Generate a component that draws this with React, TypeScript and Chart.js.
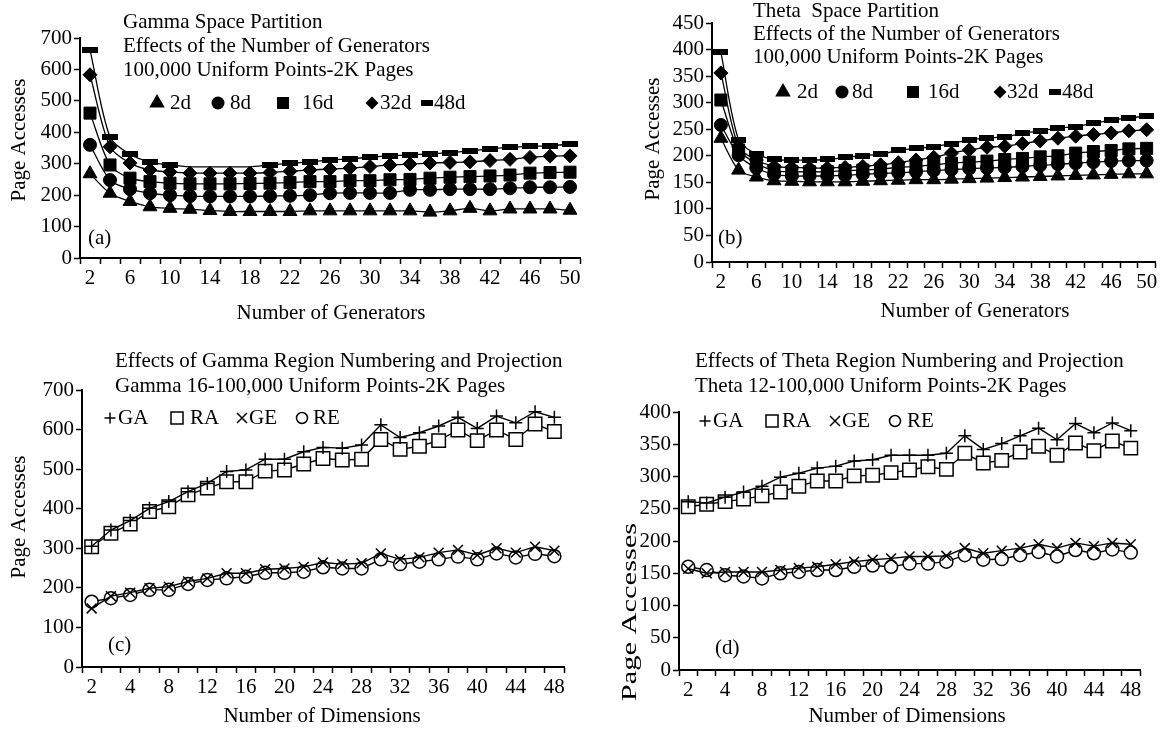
import React, { useEffect, useRef } from 'react';
import { Chart, registerables } from 'chart.js';

Chart.register(...registerables);

const SERIF = '"Liberation Serif", "Times New Roman", serif';

// ---------- categories ----------
const genLabels = ['2', '4', '6', '8', '10', '12', '14', '16', '18', '20', '22', '24', '26', '28', '30', '32', '34', '36', '38', '40', '42', '44', '46', '48', '50'];
const dimLabels = ['2', '3', '4', '6', '8', '10', '12', '14', '16', '18', '20', '22', '24', '26', '28', '30', '32', '34', '36', '38', '40', '42', '44', '46', '48'];

// ---------- (a) Gamma space partition ----------
const gamma2d = [268, 206, 180, 163, 158, 155, 151, 148, 148, 148, 148, 150, 150, 150, 150, 150, 150, 146, 150, 158, 150, 156, 156, 156, 152];
const gamma8d = [360, 248, 219, 206, 200, 197, 196, 196, 196, 197, 198, 200, 206, 207, 207, 207, 217, 217, 219, 219, 219, 222, 225, 225, 226];
const gamma16d = [461, 296, 254, 243, 238, 236, 236, 236, 237, 238, 240, 243, 243, 246, 246, 249, 250, 254, 257, 259, 261, 264, 270, 272, 273];
const gamma32d = [583, 354, 302, 280, 274, 270, 270, 270, 270, 272, 276, 280, 283, 286, 291, 296, 299, 302, 304, 306, 310, 314, 320, 324, 325];
const gamma48d = [662, 385, 330, 305, 296, 290, 290, 290, 290, 296, 301, 306, 312, 315, 321, 325, 328, 331, 335, 341, 347, 352, 355, 357, 362];

// ---------- (b) Theta space partition ----------
const theta2d = [233, 173, 160, 153, 152, 151, 151, 151, 152, 153, 154, 155, 155, 156, 157, 158, 159, 160, 161, 162, 163, 164, 165, 166, 166];
const theta8d = [258, 201, 177, 165, 162, 162, 162, 163, 165, 167, 168, 170, 172, 174, 176, 177, 178, 180, 182, 184, 186, 188, 190, 191, 191];
const theta16d = [305, 211, 186, 172, 170, 170, 170, 172, 173, 175, 178, 180, 183, 186, 188, 190, 193, 195, 198, 200, 205, 208, 210, 213, 214];
const theta32d = [356, 217, 192, 180, 178, 177, 177, 178, 180, 183, 187, 192, 197, 205, 211, 216, 218, 223, 228, 233, 237, 240, 243, 247, 249];
const theta48d = [395, 230, 203, 193, 192, 192, 193, 197, 200, 203, 210, 214, 217, 223, 230, 233, 236, 242, 247, 252, 255, 261, 267, 271, 275];

// ---------- (c) Gamma region numbering ----------
const gammaGA = [305, 346, 370, 401, 418, 443, 464, 494, 498, 525, 525, 544, 555, 553, 561, 612, 580, 592, 609, 631, 603, 634, 617, 645, 631];
const gammaRA = [304, 338, 361, 393, 405, 435, 452, 468, 468, 495, 498, 513, 527, 523, 525, 575, 550, 558, 572, 599, 572, 599, 575, 614, 595];
const gammaGE = [148, 179, 188, 199, 203, 216, 224, 237, 237, 247, 249, 253, 264, 260, 262, 287, 272, 277, 289, 296, 283, 300, 289, 304, 294];
const gammaRE = [165, 174, 182, 195, 195, 210, 220, 224, 228, 238, 238, 241, 252, 249, 249, 272, 260, 266, 272, 279, 272, 287, 277, 286, 280];

// ---------- (d) Theta region numbering ----------
const thetaGA = [261, 259, 268, 276, 285, 299, 305, 313, 316, 324, 326, 333, 333, 333, 336, 363, 342, 351, 363, 375, 357, 382, 368, 383, 371];
const thetaRA = [253, 257, 261, 265, 270, 276, 285, 293, 293, 301, 302, 306, 310, 315, 311, 336, 321, 325, 338, 347, 333, 352, 340, 355, 344];
const thetaGE = [157, 150, 152, 152, 152, 155, 158, 160, 164, 168, 171, 173, 176, 176, 177, 189, 181, 185, 189, 195, 189, 197, 192, 197, 195];
const thetaRE = [160, 155, 147, 145, 142, 150, 152, 155, 155, 160, 162, 160, 165, 165, 168, 178, 171, 172, 178, 183, 176, 186, 181, 187, 182];

type Box = { left: number; top: number; w: number; h: number };
type Area = { left: number; top: number; right: number; bottom: number };
type TextItem = { text: string; x: number; y: number; size?: number; align?: CanvasTextAlign; rotate?: boolean; sx?: number };
type LegendItem = { kind: string; mx: number; text: string; tx: number; y: number };

function makeDash(w: number, h: number) {
  const c = document.createElement('canvas');
  c.width = w;
  c.height = h;
  const g = c.getContext('2d')!;
  g.fillStyle = '#000';
  g.fillRect(0, 0, w, h);
  return c;
}

function drawMarker(ctx: CanvasRenderingContext2D, kind: string, x: number, y: number) {
  ctx.save();
  ctx.fillStyle = '#000';
  ctx.strokeStyle = '#000';
  ctx.lineWidth = 1.5;
  ctx.beginPath();
  switch (kind) {
    case 'tri': {
      const r = 9;
      ctx.moveTo(x, y - r);
      ctx.lineTo(x + r * 0.866, y + r * 0.5);
      ctx.lineTo(x - r * 0.866, y + r * 0.5);
      ctx.closePath();
      ctx.fill();
      break;
    }
    case 'circ':
      ctx.arc(x, y, 6.5, 0, Math.PI * 2);
      ctx.fill();
      break;
    case 'sq':
      ctx.fillRect(x - 6, y - 6, 12, 12);
      break;
    case 'dia': {
      const r = 6.5;
      ctx.moveTo(x, y - r);
      ctx.lineTo(x + r, y);
      ctx.lineTo(x, y + r);
      ctx.lineTo(x - r, y);
      ctx.closePath();
      ctx.fill();
      break;
    }
    case 'dash':
      ctx.fillRect(x - 6, y - 3, 12, 6);
      break;
    case 'plus':
      ctx.moveTo(x - 5.5, y);
      ctx.lineTo(x + 5.5, y);
      ctx.moveTo(x, y - 5.5);
      ctx.lineTo(x, y + 5.5);
      ctx.stroke();
      break;
    case 'osq':
      ctx.strokeRect(x - 6, y - 6, 12, 12);
      break;
    case 'x':
      ctx.moveTo(x - 5, y - 5);
      ctx.lineTo(x + 5, y + 5);
      ctx.moveTo(x + 5, y - 5);
      ctx.lineTo(x - 5, y + 5);
      ctx.stroke();
      break;
    case 'ocirc':
      ctx.arc(x, y, 5.5, 0, Math.PI * 2);
      ctx.stroke();
      break;
  }
  ctx.restore();
}

type PanelProps = {
  box: Box;
  area: Area;
  labels: string[];
  datasets: any[];
  yMax: number;
  yStep: number;
  texts: TextItem[];
  legend: LegendItem[];
};

function Panel(props: PanelProps) {
  const ref = useRef<HTMLCanvasElement>(null);
  useEffect(() => {
    const { box, area, labels, datasets, yMax, yStep, texts, legend } = props;
    const canvas = ref.current!;
    const textPlugin = {
      id: 'pageText',
      afterDraw(chart: any) {
        const ctx: CanvasRenderingContext2D = chart.ctx;
        ctx.save();
        ctx.fillStyle = '#000';
        ctx.textBaseline = 'middle';
        for (const t of texts) {
          ctx.save();
          ctx.font = `${t.size || 21}px ${SERIF}`;
          ctx.translate(t.x - box.left, t.y - box.top);
          if (t.rotate) ctx.rotate(-Math.PI / 2);
          if (t.sx) ctx.scale(t.sx, 1);
          ctx.textAlign = t.align || 'left';
          ctx.fillText(t.text, 0, 0);
          ctx.restore();
        }
        for (const l of legend) {
          drawMarker(ctx, l.kind, l.mx - box.left, l.y - box.top);
          ctx.font = `21px ${SERIF}`;
          ctx.textAlign = 'left';
          ctx.fillText(l.text, l.tx - box.left, l.y - box.top);
        }
        ctx.restore();
      },
    };
    const chart = new Chart(canvas, {
      type: 'line',
      data: { labels, datasets },
      options: {
        responsive: false,
        maintainAspectRatio: false,
        animation: false,
        devicePixelRatio: 1,
        events: [],
        layout: {
          padding: {
            left: 0,
            top: area.top - box.top,
            right: box.left + box.w - area.right,
            bottom: 0,
          },
        },
        plugins: {
          legend: { display: false },
          tooltip: { enabled: false },
          title: { display: false },
        },
        scales: {
          x: {
            type: 'category',
            offset: true,
            grid: {
              display: true,
              offset: true,
              drawOnChartArea: false,
              drawTicks: true,
              tickLength: 6,
              tickColor: '#000',
              tickWidth: 1.5,
              color: '#000',
            },
            border: { display: true, color: '#000', width: 2 },
            ticks: {
              color: '#000',
              font: { family: SERIF, size: 21 },
              padding: 2,
              autoSkip: false,
              maxRotation: 0,
              minRotation: 0,
              callback: (_v: any, i: number) => (i % 2 === 0 ? labels[i] : ''),
            },
            afterFit: (s: any) => {
              s.height = box.top + box.h - area.bottom;
            },
          },
          y: {
            type: 'linear',
            min: 0,
            max: yMax,
            grid: {
              display: true,
              drawOnChartArea: false,
              drawTicks: true,
              tickLength: 6,
              tickColor: '#000',
              tickWidth: 1.5,
              color: '#000',
            },
            border: { display: true, color: '#000', width: 2 },
            ticks: {
              stepSize: yStep,
              autoSkip: false,
              color: '#000',
              font: { family: SERIF, size: 21 },
              padding: 2,
            },
            afterFit: (s: any) => {
              s.width = area.left - box.left;
            },
          },
        },
      } as any,
      plugins: [textPlugin as any],
    });
    return () => chart.destroy();
  }, []);
  const { box } = props;
  return (
    <canvas
      ref={ref}
      width={box.w}
      height={box.h}
      style={{ position: 'absolute', left: box.left, top: box.top, width: box.w, height: box.h }}
    />
  );
}

function genSets(d2: number[], d8: number[], d16: number[], d32: number[], d48: number[], dash: HTMLCanvasElement, hide48: number[]) {
  const base = {
    borderColor: '#000',
    borderWidth: 1.3,
    pointBackgroundColor: '#000',
    pointBorderColor: '#000',
    pointBorderWidth: 1,
    tension: 0.3,
    fill: false,
    clip: false,
  };
  return [
    { ...base, label: '48d', data: d48, pointStyle: dash, pointRadius: (c: any) => (hide48.includes(c.dataIndex) ? 0 : 7) },
    { ...base, label: '32d', data: d32, pointStyle: 'rectRot', pointRadius: 7 },
    { ...base, label: '16d', data: d16, pointStyle: 'rect', pointRadius: 8.5 },
    { ...base, label: '8d', data: d8, pointStyle: 'circle', pointRadius: 6.5 },
    { ...base, label: '2d', data: d2, pointStyle: 'triangle', pointRadius: 8 },
  ];
}

function dimSets(ga: number[], ra: number[], ge: number[], re: number[]) {
  const base = {
    borderColor: '#000',
    borderWidth: 1.4,
    pointBorderColor: '#000',
    pointBorderWidth: 1.5,
    tension: 0,
    fill: false,
    clip: false,
  };
  return [
    { ...base, label: 'GA', data: ga, pointStyle: 'cross', pointRadius: 6.5, pointBackgroundColor: '#000' },
    { ...base, label: 'RA', data: ra, pointStyle: 'rect', pointRadius: 9.5, pointBackgroundColor: '#fff' },
    { ...base, label: 'GE', data: ge, pointStyle: 'crossRot', pointRadius: 7, pointBackgroundColor: '#000' },
    { ...base, label: 'RE', data: re, pointStyle: 'circle', pointRadius: 6.5, pointBackgroundColor: '#fff' },
  ];
}

export default function App() {
  const dashA = makeDash(16, 6);
  const dashB = makeDash(15, 6);

  const textsA: TextItem[] = [
    { text: 'Gamma Space Partition', x: 123, y: 22 },
    { text: 'Effects of the Number of Generators', x: 123, y: 46 },
    { text: '100,000 Uniform Points-2K Pages', x: 123, y: 70 },
    { text: '(a)', x: 88, y: 238 },
    { text: 'Page Accesses', x: 19, y: 140, rotate: true, align: 'center' },
    { text: 'Number of Generators', x: 331, y: 313, align: 'center' },
  ];
  const legendA: LegendItem[] = [
    { kind: 'tri', mx: 157, text: '2d', tx: 170, y: 103 },
    { kind: 'circ', mx: 218, text: '8d', tx: 230, y: 103 },
    { kind: 'sq', mx: 283, text: '16d', tx: 302, y: 103 },
    { kind: 'dia', mx: 372, text: '32d', tx: 380, y: 103 },
    { kind: 'dash', mx: 427, text: '48d', tx: 434, y: 103 },
  ];
  const textsB: TextItem[] = [
    { text: 'Theta  Space Partition', x: 753, y: 11 },
    { text: 'Effects of the Number of Generators', x: 753, y: 34 },
    { text: '100,000 Uniform Points-2K Pages', x: 753, y: 57 },
    { text: '(b)', x: 718, y: 238 },
    { text: 'Page Accesses', x: 653, y: 139, rotate: true, align: 'center' },
    { text: 'Number of Generators', x: 975, y: 311, align: 'center' },
  ];
  const legendB: LegendItem[] = [
    { kind: 'tri', mx: 783, text: '2d', tx: 797, y: 92 },
    { kind: 'circ', mx: 842, text: '8d', tx: 852, y: 92 },
    { kind: 'sq', mx: 913, text: '16d', tx: 928, y: 92 },
    { kind: 'dia', mx: 1000, text: '32d', tx: 1007, y: 92 },
    { kind: 'dash', mx: 1055, text: '48d', tx: 1062, y: 92 },
  ];
  const textsC: TextItem[] = [
    { text: 'Effects of Gamma Region Numbering and Projection', x: 115, y: 361 },
    { text: 'Gamma 16-100,000 Uniform Points-2K Pages', x: 115, y: 386 },
    { text: '(c)', x: 108, y: 645 },
    { text: 'Page Accesses', x: 19, y: 517, rotate: true, align: 'center' },
    { text: 'Number of Dimensions', x: 322, y: 716, align: 'center' },
  ];
  const legendC: LegendItem[] = [
    { kind: 'plus', mx: 110, text: 'GA', tx: 118, y: 418 },
    { kind: 'osq', mx: 177, text: 'RA', tx: 190, y: 418 },
    { kind: 'x', mx: 242, text: 'GE', tx: 249, y: 418 },
    { kind: 'ocirc', mx: 302, text: 'RE', tx: 313, y: 418 },
  ];
  const textsD: TextItem[] = [
    { text: 'Effects of Theta Region Numbering and Projection', x: 695, y: 361 },
    { text: 'Theta 12-100,000 Uniform Points-2K Pages', x: 695, y: 386 },
    { text: '(d)', x: 715, y: 648 },
    { text: 'Page Accesses', x: 630, y: 612, rotate: true, align: 'center', sx: 1.45 },
    { text: 'Number of Dimensions', x: 907, y: 716, align: 'center' },
  ];
  const legendD: LegendItem[] = [
    { kind: 'plus', mx: 705, text: 'GA', tx: 713, y: 421 },
    { kind: 'osq', mx: 772, text: 'RA', tx: 782, y: 421 },
    { kind: 'x', mx: 835, text: 'GE', tx: 842, y: 421 },
    { kind: 'ocirc', mx: 895, text: 'RE', tx: 907, y: 421 },
  ];

  return (
    <div style={{ position: 'absolute', left: 0, top: 0, width: 1165, height: 732, background: '#fff', overflow: 'hidden' }}>
      <Panel
        box={{ left: 0, top: 0, w: 590, h: 335 }}
        area={{ left: 80, top: 38, right: 580, bottom: 258 }}
        labels={genLabels}
        datasets={genSets(gamma2d, gamma8d, gamma16d, gamma32d, gamma48d, dashA, [5, 6, 7, 8])}
        yMax={700}
        yStep={100}
        texts={textsA}
        legend={legendA}
      />
      <Panel
        box={{ left: 590, top: 0, w: 575, h: 335 }}
        area={{ left: 712, top: 23, right: 1162, bottom: 262 }}
        labels={genLabels}
        datasets={genSets(theta2d, theta8d, theta16d, theta32d, theta48d, dashB, [])}
        yMax={450}
        yStep={50}
        texts={textsB}
        legend={legendB}
      />
      <Panel
        box={{ left: 0, top: 335, w: 590, h: 397 }}
        area={{ left: 82, top: 390, right: 564, bottom: 667 }}
        labels={dimLabels}
        datasets={dimSets(gammaGA, gammaRA, gammaGE, gammaRE)}
        yMax={700}
        yStep={100}
        texts={textsC}
        legend={legendC}
      />
      <Panel
        box={{ left: 590, top: 335, w: 575, h: 397 }}
        area={{ left: 679, top: 412, right: 1140, bottom: 670 }}
        labels={dimLabels}
        datasets={dimSets(thetaGA, thetaRA, thetaGE, thetaRE)}
        yMax={400}
        yStep={50}
        texts={textsD}
        legend={legendD}
      />
    </div>
  );
}
